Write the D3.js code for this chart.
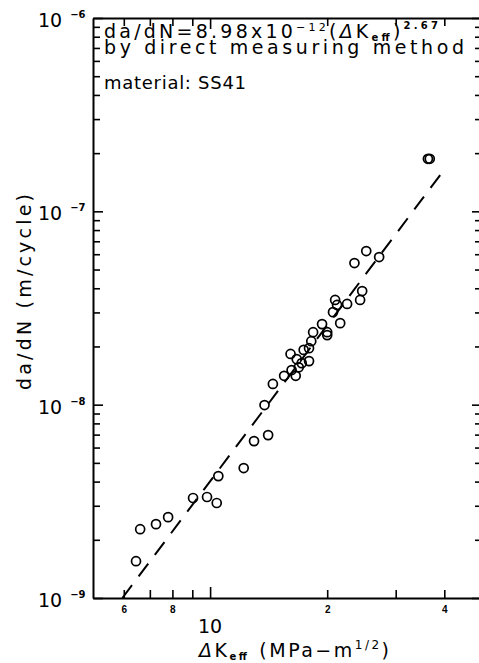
<!DOCTYPE html>
<html>
<head>
<meta charset="utf-8">
<title>da/dN vs dK_eff</title>
<script src="https://cdnjs.cloudflare.com/ajax/libs/d3/7.8.5/d3.min.js"></script>
<style>
body { margin: 0; background: #fff; }
svg { display: block; font-family: "DejaVu Sans", "Liberation Sans", sans-serif; }
</style>
</head>
<body>
<div id="chart"></div>
<script>
var width = 479,
    height = 663,
    margin = {top: 18, right: -3, bottom: 65, left: 93};

// measured points: dK_eff (MPa m^1/2) and da/dN (m/cycle)
var dK = [6.45, 6.61, 7.26, 7.80, 9.04, 9.82, 10.4, 10.5, 12.2, 12.97,
          14.1, 13.8, 14.5, 15.5, 16.6, 16.2, 16.9, 16.1, 16.7, 17.2,
          17.96, 17.4, 17.96, 18.2, 18.4, 19.4, 20.0, 20.0, 21.6, 20.7,
          20.96, 21.2, 22.5, 24.3, 24.6, 23.5, 25.2, 27.2, 36.3, 36.7];
var dadN = [1.55e-9, 2.27e-9, 2.41e-9, 2.62e-9, 3.29e-9, 3.33e-9, 3.10e-9, 4.27e-9, 4.70e-9, 6.48e-9,
            6.96e-9, 9.95e-9, 1.28e-8, 1.41e-8, 1.41e-8, 1.51e-8, 1.56e-8, 1.83e-8, 1.72e-8, 1.64e-8,
            1.68e-8, 1.92e-8, 1.96e-8, 2.13e-8, 2.37e-8, 2.61e-8, 2.37e-8, 2.29e-8, 2.64e-8, 3.01e-8,
            3.48e-8, 3.28e-8, 3.32e-8, 3.48e-8, 3.87e-8, 5.40e-8, 6.23e-8, 5.80e-8, 1.87e-7, 1.87e-7];

// ends of the fitted (dashed) line
var fitK = [5.95, 40.5],
    fitRate = [1.0e-9, 1.70e-7];

var xTicks = [6, 7, 8, 9, 10, 20, 30, 40],
    xTickLabels = ["6", "", "8", "", "", "2", "", "4"],
    yDecades = [-9, -8, -7, -6];

var x = d3.scaleLog().domain([5, 50]).range([margin.left, width - margin.right]);
var y = d3.scaleLog().domain([1e-9, 1e-6]).range([height - margin.bottom, margin.top]);

// minor ticks 1..9 per decade
var yTicks = [];
yDecades.forEach(function(e) {
    if (e === -6) { yTicks.push(1e-6); return; }
    for (var m = 1; m <= 9; m++) yTicks.push(m * Math.pow(10, e));
});
function isMajor(v) { return Math.abs(Math.log10(v) - Math.round(Math.log10(v))) < 1e-6; }

var svg = d3.select("#chart").append("svg")
    .attr("width", width)
    .attr("height", height);

// axes
var gBottom = svg.append("g")
    .attr("transform", "translate(0," + y.range()[0] + ")")
    .call(d3.axisBottom(x).tickValues(xTicks).tickSizeInner(-8).tickSizeOuter(0).tickPadding(9)
        .tickFormat(function(d, i) { return xTickLabels[i]; }));
gBottom.selectAll(".tick line").filter(function(d) { return d === 10; }).attr("y2", -11);
gBottom.selectAll(".tick text")
    .style("font-size", "10px").style("font-weight", "bold").attr("dy", "0.55em");

var gTop = svg.append("g")
    .attr("transform", "translate(0," + y.range()[1] + ")")
    .call(d3.axisTop(x).tickValues(xTicks).tickSizeInner(-8).tickSizeOuter(0).tickFormat(""));
gTop.selectAll(".tick line").filter(function(d) { return d === 10; }).attr("y2", 11);

var gLeft = svg.append("g")
    .attr("transform", "translate(" + x.range()[0] + ",0)")
    .call(d3.axisLeft(y).tickValues(yTicks).tickSizeInner(-7).tickSizeOuter(0).tickFormat(""));
gLeft.selectAll(".tick line").filter(isMajor).attr("x2", 10);

var gRight = svg.append("g")
    .attr("transform", "translate(" + x.range()[1] + ",0)")
    .call(d3.axisRight(y).tickValues(yTicks).tickSizeInner(-7).tickSizeOuter(0).tickFormat(""));
gRight.selectAll(".tick line").filter(isMajor).attr("x2", -10);

svg.selectAll(".domain").attr("stroke", "#000").attr("stroke-width", 2);
svg.selectAll(".tick line").attr("stroke", "#000").attr("stroke-width", 1.6);

// big "10" under the x axis
svg.append("text")
    .attr("x", x(10)).attr("y", 633)
    .attr("text-anchor", "middle")
    .style("font-size", "19px")
    .text("10");

// y decade labels 10^-n
yDecades.forEach(function(e) {
    var v = Math.pow(10, e);
    var t = svg.append("text")
        .attr("x", 38).attr("y", y(v) + 9)
        .style("font-size", "19px");
    t.append("tspan").text("10");
    t.append("tspan").attr("dx", 8).attr("dy", -9)
        .style("font-size", "10px").style("font-weight", "bold")
        .text("\u2212" + (-e));
});

// axis titles
svg.append("text")
    .attr("transform", "translate(31," + 292 + ") rotate(-90)")
    .attr("text-anchor", "middle")
    .style("font-size", "19px")
    .attr("textLength", 196).attr("lengthAdjust", "spacing")
    .text("da/dN  (m/cycle)");

var xt = svg.append("text")
    .attr("x", 199).attr("y", 657)
    .style("font-size", "19px")
    .attr("textLength", 190).attr("lengthAdjust", "spacing");
xt.append("tspan").style("font-style", "italic").text("\u0394");
xt.append("tspan").text("K");
xt.append("tspan").attr("dy", 3).style("font-size", "10px").style("font-weight", "bold").text("eff");
xt.append("tspan").attr("dy", -3).attr("dx", 10).text("(MPa\u2212m");
xt.append("tspan").attr("dy", -8).style("font-size", "12px").text("1/2");
xt.append("tspan").attr("dy", 8).text(")");

// annotation
var a1 = svg.append("text")
    .attr("x", 104).attr("y", 38)
    .style("font-size", "19px")
    .attr("textLength", 334).attr("lengthAdjust", "spacing");
a1.append("tspan").text("da/dN=8.98x10");
a1.append("tspan").attr("dy", -7).style("font-size", "11px").text("\u221212");
a1.append("tspan").attr("dy", 7).text("(");
a1.append("tspan").style("font-style", "italic").text("\u0394");
a1.append("tspan").text("K");
a1.append("tspan").attr("dy", 3).style("font-size", "10px").style("font-weight", "bold").text("eff");
a1.append("tspan").attr("dy", -3).text(")");
a1.append("tspan").attr("dy", -9).style("font-size", "10px").style("font-weight", "bold").text("2.67");

svg.append("text")
    .attr("x", 104).attr("y", 54)
    .style("font-size", "19px")
    .attr("textLength", 360).attr("lengthAdjust", "spacing")
    .text("by direct measuring method");

svg.append("text")
    .attr("x", 104).attr("y", 89)
    .style("font-size", "18px")
    .attr("textLength", 142).attr("lengthAdjust", "spacing")
    .text("material: SS41");

// fitted dashed line
svg.append("line")
    .attr("x1", x(fitK[0])).attr("y1", y(fitRate[0]))
    .attr("x2", x(fitK[1])).attr("y2", y(fitRate[1]))
    .attr("stroke", "#000")
    .attr("stroke-width", 2)
    .attr("stroke-dasharray", "16,11");

// data circles
svg.append("g").selectAll("circle")
    .data(dK)
    .enter().append("circle")
    .attr("cx", function(d) { return x(d); })
    .attr("cy", function(d, i) { return y(dadN[i]); })
    .attr("r", 4.5)
    .attr("fill", "none")
    .attr("stroke", "#000")
    .attr("stroke-width", 1.7);
</script>
</body>
</html>
